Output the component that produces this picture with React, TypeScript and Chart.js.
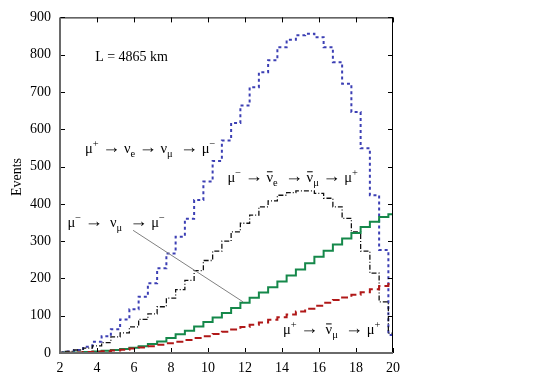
import React, { useEffect, useRef } from 'react';
import { Chart, registerables } from 'chart.js';

Chart.register(...registerables);

const SERIF = '"Liberation Serif", "Times New Roman", serif';

// bin centres (bin width 0.5)
const binCenters = [
  2.0, 2.5, 3.0, 3.5, 4.0, 4.5, 5.0, 5.5, 6.0, 6.5, 7.0, 7.5, 8.0, 8.5, 9.0, 9.5,
  10.0, 10.5, 11.0, 11.5, 12.0, 12.5, 13.0, 13.5, 14.0, 14.5, 15.0, 15.5, 16.0,
  16.5, 17.0, 17.5, 18.0, 18.5, 19.0, 19.5, 20.0,
];

// mu+ -> nu_e -> nu_mu -> mu-
const blueEvents = [
  2, 4, 8, 17, 30, 45, 64, 90, 117, 151, 187, 227, 267, 312, 360, 410, 460, 515,
  570, 617, 664, 713, 753, 785, 820, 840, 852, 856, 847, 820, 780, 722, 646, 549,
  423, 276, 48,
];
// mu- -> nubar_e -> nubar_mu -> mu+
const blackEvents = [
  2, 4, 8, 13, 19, 28, 43, 54, 70, 90, 105, 124, 147, 170, 195, 221, 248, 273,
  300, 325, 348, 370, 392, 408, 423, 430, 435, 435, 428, 415, 392, 361, 325, 273,
  214, 137, 53,
];
// mu- -> nu_mu -> mu-
const greenEvents = [
  0.5, 1, 1.5, 2.5, 4, 6, 8, 11, 14, 18, 24, 31, 40, 50, 60, 71, 83, 95, 107, 121,
  135, 148, 162, 176, 192, 208, 224, 241, 258, 274, 291, 307, 322, 338, 352, 365,
  372,
];
// mu+ -> nubar_mu -> mu+
const redEvents = [
  0.5, 1, 1.5, 2.5, 3.5, 5, 7, 9, 12, 15, 18, 22, 26, 30, 35, 40, 45, 51, 57, 63,
  70, 76, 82, 89, 96, 103, 111, 119, 127, 135, 142, 149, 156, 163, 171, 180, 185,
];

const yTickValues = [0, 100, 200, 300, 400, 500, 600, 700, 800, 900];
const xTickValues = [2, 4, 6, 8, 10, 12, 14, 16, 18, 20];

const distanceLabel = 'L = 4865 km';

type Seg = { t: string; k?: 'sup' | 'sub' | 'arr'; bar?: boolean };

const label1: Seg[] = [
  { t: 'μ' }, { t: '+', k: 'sup' }, { t: ' ' }, { t: '→', k: 'arr' }, { t: ' ' }, { t: 'ν' }, { t: 'e', k: 'sub' },
  { t: ' ' }, { t: '→', k: 'arr' }, { t: ' ' }, { t: 'ν' }, { t: 'μ', k: 'sub' }, { t: '  ' }, { t: '→', k: 'arr' },
  { t: ' ' }, { t: 'μ' }, { t: '−', k: 'sup' },
];
const label2: Seg[] = [
  { t: 'μ' }, { t: '−', k: 'sup' }, { t: ' ' }, { t: '→', k: 'arr' }, { t: ' ' }, { t: 'ν', bar: true }, { t: 'e', k: 'sub' },
  { t: '  ' }, { t: '→', k: 'arr' }, { t: ' ' }, { t: 'ν', bar: true }, { t: 'μ', k: 'sub' }, { t: ' ' },
  { t: '→', k: 'arr' }, { t: ' ' }, { t: 'μ' }, { t: '+', k: 'sup' },
];
const label3: Seg[] = [
  { t: 'μ' }, { t: '−', k: 'sup' }, { t: ' ' }, { t: '→', k: 'arr' }, { t: '  ' }, { t: 'ν' }, { t: 'μ', k: 'sub' },
  { t: '  ' }, { t: '→', k: 'arr' }, { t: ' ' }, { t: 'μ' }, { t: '−', k: 'sup' },
];
const label4: Seg[] = [
  { t: 'μ' }, { t: '+', k: 'sup' }, { t: ' ' }, { t: '→', k: 'arr' }, { t: '  ' }, { t: 'ν', bar: true }, { t: 'μ', k: 'sub' },
  { t: '  ' }, { t: '→', k: 'arr' }, { t: ' ' }, { t: 'μ' }, { t: '+', k: 'sup' },
];

function toSteps(vals: number[]) {
  const pts = binCenters.map((c, i) => ({ x: c - 0.25, y: vals[i] }));
  const last = binCenters.length - 1;
  pts.push({ x: binCenters[last] + 0.25, y: vals[last] });
  return pts;
}

function drawRich(ctx: CanvasRenderingContext2D, segs: Seg[], x: number, y: number, size: number) {
  let cx = x;
  ctx.fillStyle = '#000';
  ctx.textAlign = 'left';
  ctx.textBaseline = 'alphabetic';
  for (const s of segs) {
    let fs = size;
    let dy = 0;
    if (s.k === 'sup') { fs = size * 0.72; dy = -size * 0.42; }
    else if (s.k === 'sub') { fs = size * 0.72; dy = size * 0.28; }
    else if (s.k === 'arr') { fs = size * 1.25; dy = 0; }
    ctx.font = `${fs}px ${SERIF}`;
    ctx.fillText(s.t, cx, y + dy);
    const w = ctx.measureText(s.t).width;
    if (s.bar) {
      ctx.save();
      ctx.strokeStyle = '#000';
      ctx.lineWidth = 1;
      ctx.beginPath();
      ctx.moveTo(cx + 0.5, y - size * 0.72);
      ctx.lineTo(cx + w - 0.5, y - size * 0.72);
      ctx.stroke();
      ctx.restore();
    }
    cx += w;
  }
}

const overlayPlugin = {
  id: 'overlay',
  afterDatasetsDraw(chart: any) {
    const { ctx, chartArea: a, scales } = chart;
    const xs = scales.x;
    const ys = scales.y;
    const px = (v: number) => xs.getPixelForValue(v);
    const py = (v: number) => ys.getPixelForValue(v);
    ctx.save();

    // pointer line
    ctx.strokeStyle = '#808080';
    ctx.lineWidth = 1;
    ctx.beginPath();
    ctx.moveTo(px(5.95), py(329));
    ctx.lineTo(px(11.9), py(137));
    ctx.stroke();

    // labels
    ctx.fillStyle = '#000';
    ctx.font = `14px ${SERIF}`;
    ctx.textAlign = 'left';
    ctx.textBaseline = 'alphabetic';
    ctx.fillText(distanceLabel, px(3.9), py(782));
    drawRich(ctx, label1, px(3.35), py(536), 14.5);
    drawRich(ctx, label2, px(11.05), py(458), 14.5);
    drawRich(ctx, label3, px(2.4), py(339), 14.5);
    drawRich(ctx, label4, px(14.05), py(50), 14.5);

    // frame
    ctx.strokeStyle = '#000';
    ctx.lineWidth = 1;
    ctx.beginPath();
    ctx.moveTo(a.left, a.top + 0.5);
    ctx.lineTo(a.right - 0.5, a.top + 0.5);
    ctx.lineTo(a.right - 0.5, a.bottom);
    ctx.stroke();

    // ticks
    ctx.beginPath();
    for (const v of yTickValues) {
      const yy = Math.round(py(v)) + 0.5;
      ctx.moveTo(a.left, yy);
      ctx.lineTo(a.left + 5, yy);
      ctx.moveTo(a.right, yy);
      ctx.lineTo(a.right - 5, yy);
    }
    for (const v of xTickValues) {
      const xx = Math.round(px(v)) + 0.5;
      ctx.moveTo(xx, a.bottom);
      ctx.lineTo(xx, a.bottom - 5);
      ctx.moveTo(xx, a.top);
      ctx.lineTo(xx, a.top + 5);
    }
    ctx.stroke();

    ctx.strokeStyle = '#6a6a6a';
    ctx.lineWidth = 2;
    ctx.beginPath();
    ctx.moveTo(a.left, a.top);
    ctx.lineTo(a.left, a.bottom);
    ctx.lineTo(a.right, a.bottom);
    ctx.stroke();

    // y title
    ctx.save();
    ctx.translate(17, 177);
    ctx.rotate(-Math.PI / 2);
    ctx.font = `14px ${SERIF}`;
    ctx.textAlign = 'center';
    ctx.textBaseline = 'middle';
    ctx.fillStyle = '#000';
    ctx.fillText('Events', 0, 0);
    ctx.restore();

    ctx.restore();
  },
};

export default function App() {
  const ref = useRef<HTMLCanvasElement | null>(null);
  useEffect(() => {
    if (!ref.current) return;
    const mk = (vals: number[], color: string, dash: number[], width: number) => ({
      data: toSteps(vals),
      borderColor: color,
      borderWidth: width,
      borderDash: dash,
      stepped: 'before' as const,
      pointRadius: 0,
      fill: false,
      tension: 0,
    });
    const chart = new Chart(ref.current, {
      type: 'line',
      data: {
        datasets: [
          mk(redEvents, '#b01818', [7, 4], 2),
          mk(greenEvents, '#15884a', [], 2),
          mk(blackEvents, '#111111', [5, 2, 1, 2], 1.3),
          mk(blueEvents, '#3c3fb4', [3, 3], 2),
        ] as any,
      },
      options: {
        animation: false,
        responsive: false,
        layout: { padding: { left: 0, top: 17, right: 152, bottom: 0 } },
        plugins: { legend: { display: false }, tooltip: { enabled: false } },
        scales: {
          x: {
            type: 'linear',
            min: 2,
            max: 20,
            grid: { display: false, drawTicks: false },
            border: { display: false },
            afterFit: (s: any) => { s.height = 29; },
            afterBuildTicks: (s: any) => { s.ticks = xTickValues.map((v) => ({ value: v })); },
            ticks: { color: '#000', padding: 7, font: { family: SERIF, size: 14 } },
          },
          y: {
            type: 'linear',
            min: 0,
            max: 900,
            grid: { display: false, drawTicks: false },
            border: { display: false },
            afterFit: (s: any) => { s.width = 60; },
            afterBuildTicks: (s: any) => { s.ticks = yTickValues.map((v) => ({ value: v })); },
            ticks: { color: '#000', padding: 9, font: { family: SERIF, size: 14 } },
          },
        },
      } as any,
      plugins: [overlayPlugin],
    });
    return () => chart.destroy();
  }, []);
  return (
    <div style={{ position: 'absolute', left: 0, top: 0, width: 545, height: 382, background: '#fff' }}>
      <canvas ref={ref} width={545} height={382} />
    </div>
  );
}
